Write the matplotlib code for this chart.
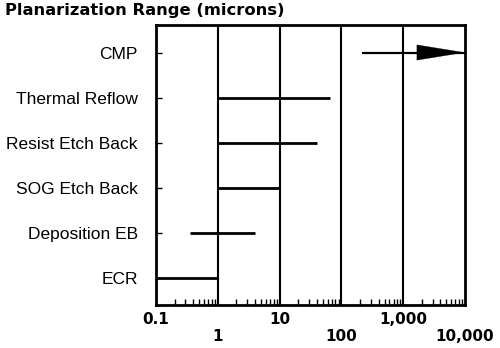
"""Planarization range per technique, on a log micron scale."""
import matplotlib

matplotlib.use("Agg")
import matplotlib.pyplot as plt  # noqa: E402

categories = ["CMP", "Thermal Reflow", "Resist Etch Back", "SOG Etch Back",
              "Deposition EB", "ECR"]
range_low = [215, 1, 1, 1, 0.35, 0.1]
range_high = [10000, 65, 40, 10, 4, 1]
open_ended = [True, False, False, False, False, False]

tick_values = [0.1, 1, 10, 100, 1000, 10000]
tick_labels = ["0.1", "1", "10", "100", "1,000", "10,000"]

fig = plt.figure(figsize=(5.0, 3.48), dpi=100)
ax = fig.add_axes([0.312, 0.1236, 0.618, 0.8044])

n = len(categories)
ypos = [n - 1 - i for i in range(n)]

for y, lo, hi, arrow in zip(ypos, range_low, range_high, open_ended):
    ax.hlines(y, lo, hi, color="black", lw=2 if not arrow else 1.6)
    if arrow:
        # thin outline so the head tip lands on the axis edge
        ax.annotate("", xy=(hi, y), xytext=(lo, y),
                    arrowprops=dict(arrowstyle="-|>,head_length=3.4,head_width=0.55",
                                    mutation_scale=10, lw=0.2, color="black",
                                    shrinkA=0, shrinkB=0))

ax.set_xscale("log")
ax.set_xlim(0.1, 10000)
ax.set_ylim(-0.61, n - 1 + 0.61)

# decade gridlines
for v in tick_values[1:-1]:
    ax.axvline(v, color="black", lw=1.5)

# staggered tick labels
stagger = [lab if i % 2 == 0 else "\n" + lab for i, lab in enumerate(tick_labels)]
ax.set_xticks(tick_values)
ax.set_xticklabels(stagger, fontsize=11, fontweight="heavy", linespacing=1.2)
ax.tick_params(axis="x", which="major", length=0, pad=5)
ax.tick_params(axis="x", which="minor", direction="in", length=4, width=1)

ax.set_yticks(ypos)
ax.set_yticklabels(categories, fontsize=12.5,
                   family=["Liberation Sans", "DejaVu Sans"])
ax.tick_params(axis="y", direction="in", length=4, width=1, pad=13)

for spine in ax.spines.values():
    spine.set_linewidth(2)

fig.text(0.01, 0.97, "Planarization Range (microns)", fontsize=11.8,
         fontweight="heavy", ha="left", va="center")

fig.savefig("out.png", dpi=100)
